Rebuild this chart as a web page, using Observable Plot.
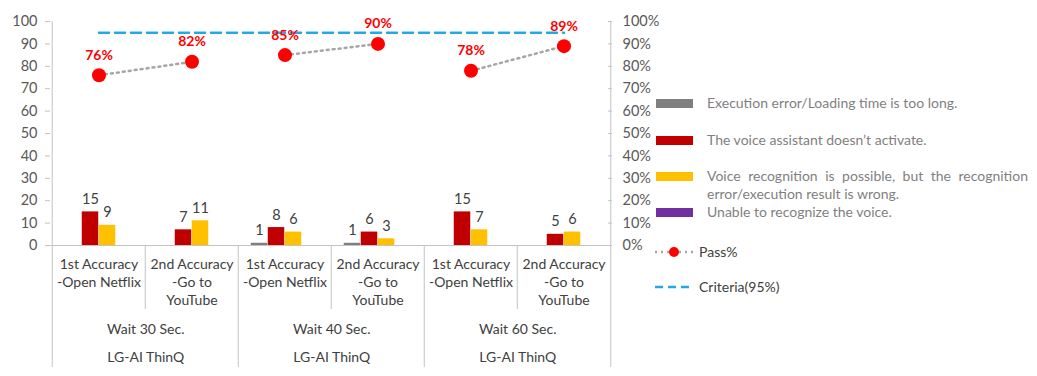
<!DOCTYPE html>
<html><head><meta charset="utf-8">
<script src="https://cdn.jsdelivr.net/npm/d3@7"></script>
<script src="https://cdn.jsdelivr.net/npm/@observablehq/plot@0.6"></script>
<style>
body{margin:0;background:#fff;}
#wrap{position:relative;width:1037px;height:376px;font-family:Lato,"Open Sans",sans-serif;}
#wrap svg.plot{position:absolute;left:0;top:0;}
.lg{position:absolute;font-size:14px;line-height:18px;color:#7f7f7f;white-space:nowrap;}
.sw{position:absolute;width:37px;height:9px;}
</style></head><body><div id="wrap"></div>
<script>
// ---- data ----
const categoryKeys = ["W30-1", "W30-2", "W40-1", "W40-2", "W60-1", "W60-2"];
const categoryLabels = [
  "1st Accuracy\n-Open Netflix", "2nd Accuracy\n-Go to\nYouTube",
  "1st Accuracy\n-Open Netflix", "2nd Accuracy\n-Go to\nYouTube",
  "1st Accuracy\n-Open Netflix", "2nd Accuracy\n-Go to\nYouTube"
];
const waitGroups = ["Wait 30 Sec.", "Wait 40 Sec.", "Wait 60 Sec."];
const groupFirstCategory = ["W30-1", "W40-1", "W60-1"];
const brandLabel = "LG-AI ThinQ";
const seriesNames = [
  "Execution error/Loading time is too long.",
  "The voice assistant doesn\u2019t activate.",
  "Voice recognition is possible, but the recognition error/execution result is wrong.",
  "Unable to recognize the voice."
];
const seriesColors = ["#7f7f7f", "#c00000", "#ffc000", "#7030a0"];
const execError = [0, 0, 1, 1, 0, 0];
const notActivate = [15, 7, 8, 6, 15, 5];
const recognitionWrong = [9, 11, 6, 3, 7, 6];
const unableToRecognize = [0, 0, 0, 0, 0, 0];
const passPct = [76, 82, 85, 90, 78, 89];
const pairOf = ["30", "30", "40", "40", "60", "60"];
const criteriaValue = 95;
const yTicks = [0, 10, 20, 30, 40, 50, 60, 70, 80, 90, 100];

// ---- layout ----
const W = 1037, H = 376, mL = 50, mR = 426, mT = 21, mB = 131;
const bw = (W - mL - mR) / categoryKeys.length;
const barW = 17;
const inset = (bw - barW) / 2;
const axisColor = "#c3c3c3";
const labelOf = Object.fromEntries(categoryKeys.map((k, i) => [k, categoryLabels[i]]));

const seriesValues = [execError, notActivate, recognitionWrong, unableToRecognize];
const barMarks = seriesValues.flatMap((vals, k) => {
  const rows = categoryKeys.map((c, i) => ({c, v: vals[i]}));
  const dx = (k - 1.5) * barW;
  return [
    Plot.barY(rows, {x: "c", y: "v", fill: seriesColors[k], dx, insetLeft: inset, insetRight: inset}),
    Plot.text(rows.filter(d => d.v > 0), {x: "c", y: "v", text: d => String(d.v), dx, dy: -8,
      lineAnchor: "bottom", fill: "#404040", fontSize: 14.5})
  ];
});

const passRows = categoryKeys.map((c, i) => ({c, v: passPct[i], pair: pairOf[i]}));
const critRows = [categoryKeys[0], categoryKeys[categoryKeys.length - 1]].map(c => ({c, v: criteriaValue}));
const groupRows = waitGroups.map((g, i) => ({c: groupFirstCategory[i], label: g}));

const chart = Plot.plot({
  width: W, height: H, marginLeft: mL, marginRight: mR, marginTop: mT, marginBottom: mB,
  style: {fontFamily: "Lato, 'Open Sans', sans-serif", fontSize: "14px", color: "#595959", background: "transparent"},
  x: {domain: categoryKeys, padding: 0, axis: null},
  y: {domain: [0, 100], axis: null},
  marks: [
    // outer axis lines
    Plot.ruleX([categoryKeys[0]], {dx: -bw / 2, stroke: axisColor, insetBottom: -122}),
    Plot.ruleX([categoryKeys[categoryKeys.length - 1]], {dx: bw / 2, stroke: axisColor, insetBottom: -122}),
    // group boundaries
    Plot.ruleX([categoryKeys[2], categoryKeys[4]], {dx: -bw / 2, stroke: axisColor, insetTop: H - mT - mB, insetBottom: -122}),
    // category boundaries
    Plot.ruleX([categoryKeys[1], categoryKeys[3], categoryKeys[5]], {dx: -bw / 2, stroke: axisColor, insetTop: H - mT - mB, insetBottom: -64}),
    Plot.ruleY([0], {stroke: axisColor}),
    Plot.axisY({anchor: "left", ticks: yTicks, tickSize: 5, tickPadding: 8, stroke: axisColor, fill: "#595959", fontSize: 14.5, label: null}),
    Plot.axisY({anchor: "right", ticks: yTicks, tickFormat: d => d + "%", tickSize: -4, tickPadding: 15, stroke: axisColor, fill: "#595959", fontSize: 14.5, label: null}),
    Plot.axisX({tickSize: 0, tickPadding: 11, tickFormat: d => labelOf[d], fill: "#404040", fontSize: 14, lineHeight: 1.29, label: null}),
    Plot.text(groupRows, {x: "c", text: "label", dx: bw / 2, frameAnchor: "bottom", dy: 88, fill: "#404040", fontSize: 14}),
    Plot.text(groupRows, {x: "c", text: () => brandLabel, dx: bw / 2, frameAnchor: "bottom", dy: 116, fill: "#404040", fontSize: 14}),
    ...barMarks,
    Plot.lineY(critRows, {x: "c", y: "v", stroke: "#22a9e1", strokeWidth: 2.5, strokeDasharray: "10,6"}),
    Plot.lineY(passRows, {x: "c", y: "v", z: "pair", stroke: "#a6a6a6", strokeWidth: 2.5, strokeDasharray: "2,4"}),
    Plot.dot(passRows, {x: "c", y: "v", r: 7, fill: "#ff0000", stroke: "none"}),
    Plot.text(passRows, {x: "c", y: "v", text: d => d.v + "%", dy: -20, fill: "#ff0000", fontWeight: "bold", fontSize: 14})
  ]
});
chart.classList.add("plot");
const wrap = document.getElementById("wrap");
wrap.appendChild(chart);

// ---- legend ----
const legendY = [103, 140, 176, 212];
seriesNames.forEach((name, k) => {
  const sw = document.createElement("div");
  sw.className = "sw";
  sw.style.left = "656px"; sw.style.top = (legendY[k] - 4.5) + "px"; sw.style.background = seriesColors[k];
  wrap.appendChild(sw);
  const t = document.createElement("div");
  t.className = "lg";
  t.textContent = name;
  t.style.left = "707px"; t.style.top = (legendY[k] - 9) + "px";
  if (k === 2) { t.style.whiteSpace = "normal"; t.style.width = "321px"; t.style.textAlign = "justify"; }
  wrap.appendChild(t);
});
const ns = "http://www.w3.org/2000/svg";
const lsvg = document.createElementNS(ns, "svg");
lsvg.setAttribute("width", 60); lsvg.setAttribute("height", 60);
lsvg.style.position = "absolute"; lsvg.style.left = "650px"; lsvg.style.top = "235px";
lsvg.innerHTML = `<line x1="5" x2="43" y1="17" y2="17" stroke="#a6a6a6" stroke-width="2.5" stroke-dasharray="2,4"/>
<circle cx="24" cy="17" r="5" fill="#ff0000"/>
<line x1="5" x2="43" y1="52" y2="52" stroke="#22a9e1" stroke-width="2.5" stroke-dasharray="8,5"/>`;
wrap.appendChild(lsvg);
[["Pass%", 252], ["Criteria(95%)", 287]].forEach(([txt, y]) => {
  const t = document.createElement("div");
  t.className = "lg"; t.textContent = txt; t.style.color = "#404040";
  t.style.left = "699px"; t.style.top = (y - 9) + "px";
  wrap.appendChild(t);
});
</script></body></html>
